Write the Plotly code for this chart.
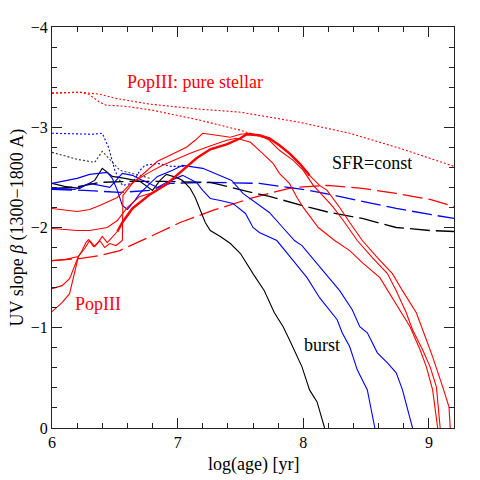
"""UV slope beta vs log(age) for burst and constant-SFR models."""

import plotly.graph_objects as go

# ---- data (log age [yr], beta) ----
red_dot_upper_x = [6.0, 6.22, 6.38, 6.5, 6.78, 7.18, 7.5, 7.97, 8.37, 8.77, 9.2]
red_dot_upper_y = [-3.34, -3.35, -3.33, -3.29, -3.23, -3.18, -3.15, -3.05, -2.94, -2.79, -2.61]

red_dot_lower_x = [6.0, 6.22, 6.29, 6.38, 6.43, 6.58, 6.8, 7.18, 7.5, 7.75]
red_dot_lower_y = [-3.34, -3.35, -3.33, -3.25, -3.22, -3.21, -3.17, -3.07, -2.97, -2.87]

blue_dot_x = [6.0, 6.32, 6.40, 6.45, 6.50, 6.56, 6.64, 6.70, 6.74, 6.84, 6.95, 7.06]
blue_dot_y = [-2.94, -2.93, -2.94, -2.80, -2.57, -2.42, -2.44, -2.57, -2.62, -2.64, -2.61, -2.61]

black_dot_x = [6.0, 6.20, 6.34, 6.40, 6.46, 6.54, 6.70, 6.78]
black_dot_y = [-2.75, -2.68, -2.65, -2.76, -2.68, -2.57, -2.52, -2.49]

black_burst_x = [6.0, 6.10, 6.22, 6.34, 6.40, 6.48, 6.58, 6.70, 6.80, 6.86, 6.91, 6.99,
                 7.04, 7.10, 7.14, 7.18, 7.22, 7.26, 7.34, 7.42, 7.50, 7.60, 7.69, 7.77,
                 7.84, 7.89, 7.95, 7.99, 8.05, 8.11, 8.17]
black_burst_y = [-2.44, -2.41, -2.39, -2.47, -2.59, -2.51, -2.49, -2.46, -2.37, -2.47, -2.53, -2.50,
                 -2.47, -2.39, -2.30, -2.17, -2.05, -1.97, -1.91, -1.84, -1.74, -1.54, -1.37, -1.15,
                 -1.01, -0.88, -0.71, -0.61, -0.38, -0.26, 0.0]

black_const_x = [6.0, 6.18, 6.38, 6.62, 6.88, 7.26, 7.52, 7.73, 8.05, 8.21, 8.47, 8.74, 9.01, 9.2]
black_const_y = [-2.39, -2.40, -2.45, -2.46, -2.46, -2.45, -2.37, -2.31, -2.20, -2.15, -2.09, -2.00, -1.97, -1.96]

blue_const_x = [6.0, 6.26, 6.54, 6.78, 6.94, 7.26, 7.65, 8.05, 8.21, 8.47, 8.74, 9.01, 9.2]
blue_const_y = [-2.38, -2.37, -2.35, -2.37, -2.44, -2.45, -2.44, -2.37, -2.33, -2.26, -2.19, -2.13, -2.09]

red_const_x = [6.0, 6.22, 6.38, 6.54, 6.80, 7.02, 7.28, 7.58, 7.73, 7.92, 8.19, 8.47, 8.74, 9.01, 9.2]
red_const_y = [-1.67, -1.69, -1.72, -1.77, -1.92, -2.05, -2.17, -2.29, -2.34, -2.40, -2.42, -2.39, -2.34, -2.28, -2.21]

blue_burst1_x = [6.0, 6.18, 6.30, 6.46, 6.56, 6.64, 6.72, 6.76, 6.84, 6.91, 7.04, 7.15, 7.20,
                 7.26, 7.34, 7.44, 7.54, 7.60, 7.65, 7.79, 7.92, 8.03, 8.13, 8.21, 8.27, 8.31,
                 8.37, 8.43, 8.51, 8.57]
blue_burst1_y = [-2.39, -2.38, -2.44, -2.40, -2.54, -2.52, -2.47, -2.45, -2.40, -2.45, -2.52, -2.45, -2.37,
                 -2.29, -2.27, -2.24, -2.14, -2.00, -1.95, -1.87, -1.67, -1.50, -1.30, -1.18, -1.08, -0.95,
                 -0.81, -0.58, -0.38, 0.0]

blue_burst2_x = [6.0, 6.20, 6.30, 6.44, 6.48, 6.52, 6.56, 6.60, 6.66, 6.70, 6.78, 6.84, 6.96,
                 7.04, 7.20, 7.39, 7.43, 7.52, 7.63, 7.73, 7.83, 7.93, 7.99, 8.11, 8.21, 8.29,
                 8.39, 8.45, 8.51, 8.59, 8.67, 8.74, 8.79, 8.87]
blue_burst2_y = [-2.44, -2.49, -2.53, -2.55, -2.49, -2.37, -2.22, -2.18, -2.27, -2.34, -2.44, -2.51, -2.57,
                 -2.62, -2.59, -2.49, -2.47, -2.34, -2.24, -2.15, -2.01, -1.87, -1.82, -1.64, -1.50, -1.37,
                 -1.18, -1.01, -0.95, -0.75, -0.65, -0.55, -0.38, 0.0]

# PopIII bursts (red solid)
red_a_x = [6.0, 6.20, 6.30, 6.38, 6.52, 6.62, 6.76, 6.88, 6.99, 7.10, 7.23, 7.39, 7.47, 7.58,
           7.65, 7.76, 7.81, 7.89, 7.95, 8.00, 8.12, 8.25, 8.37, 8.47, 8.61, 8.71, 8.78, 8.85,
           8.93, 8.98, 9.03, 9.07]
red_a_y = [-2.19, -2.16, -2.18, -2.22, -2.30, -2.43, -2.54, -2.62, -2.68, -2.74, -2.80, -2.87, -2.89, -2.85,
           -2.77, -2.64, -2.54, -2.44, -2.30, -2.20, -2.00, -1.87, -1.77, -1.65, -1.50, -1.30, -1.16, -1.01,
           -0.78, -0.61, -0.38, 0.0]

red_b_x = [6.0, 6.10, 6.21, 6.26, 6.30, 6.34, 6.38, 6.42, 6.46, 6.51, 6.56, 6.565, 6.64, 6.76,
           6.84, 6.94, 7.07, 7.14, 7.20, 7.31, 7.42, 7.50, 7.58, 7.69, 7.73, 7.81, 7.92, 8.00,
           8.08, 8.19, 8.24, 8.33, 8.43, 8.55, 8.67, 8.74, 8.82, 8.87, 8.95, 9.01, 9.06, 9.09]
red_b_y = [-1.67, -1.68, -1.71, -1.79, -1.87, -1.81, -1.87, -1.80, -1.84, -1.82, -1.87, -2.32, -2.44, -2.57,
           -2.66, -2.72, -2.80, -2.87, -2.94, -2.92, -2.90, -2.93, -2.94, -2.90, -2.87, -2.77, -2.67, -2.57,
           -2.42, -2.27, -2.20, -2.05, -1.87, -1.70, -1.54, -1.37, -1.15, -0.98, -0.78, -0.61, -0.41, 0.0]

red_c_x = [6.0, 6.20, 6.30, 6.44, 6.52, 6.60, 6.70, 6.78]
red_c_y = [-1.99, -1.97, -1.97, -2.00, -2.07, -2.20, -2.31, -2.34]

red_d_x = [6.0, 6.08, 6.14, 6.18, 6.21]
red_d_y = [-1.39, -1.42, -1.49, -1.62, -1.71]

red_thick_x = [6.0, 6.08, 6.14, 6.18, 6.21, 6.24, 6.27, 6.29, 6.33, 6.36, 6.40, 6.44, 6.48, 6.52,
               6.56, 6.64, 6.78, 6.91, 6.99, 7.07, 7.15, 7.26, 7.39, 7.50, 7.55, 7.65, 7.73, 7.81,
               7.89, 7.97, 8.05, 8.13, 8.19, 8.29, 8.37, 8.47, 8.59, 8.71, 8.79, 8.90, 8.98, 9.03,
               9.11, 9.16, 9.17]
red_thick_y = [-1.16, -1.25, -1.34, -1.54, -1.71, -1.77, -1.85, -1.88, -1.81, -1.84, -1.91, -1.85, -1.91, -1.96,
               -2.05, -2.19, -2.33, -2.43, -2.52, -2.60, -2.69, -2.78, -2.83, -2.89, -2.93, -2.92, -2.89, -2.82,
               -2.74, -2.64, -2.52, -2.42, -2.37, -2.20, -2.05, -1.87, -1.70, -1.54, -1.37, -1.15, -0.88, -0.71,
               -0.41, -0.21, 0.0]

x_ticks = [6, 7, 8, 9]
y_ticks = [0, -1, -2, -3, -4]

RED = "#ff0000"
BLUE = "#0000ff"
BLACK = "#000000"
AXIS = "#222222"
SERIF = "Liberation Serif"

fig = go.Figure()


def add_line(x, y, color, dash="solid", width=1.1):
    fig.add_trace(go.Scatter(
        x=x, y=y, mode="lines",
        line=dict(color=color, width=width, dash=dash),
        showlegend=False, hoverinfo="skip",
    ))


# pure stellar (dotted)
add_line(red_dot_upper_x, red_dot_upper_y, RED, "2px,2px")
add_line(red_dot_lower_x, red_dot_lower_y, RED, "2px,2px")
add_line(blue_dot_x, blue_dot_y, BLUE, "2px,2px")
add_line(black_dot_x, black_dot_y, "#333333", "2px,2px")

# constant SFR (long dashes)
add_line(red_const_x, red_const_y, RED, "20px,6px", 1.3)
add_line(blue_const_x, blue_const_y, BLUE, "20px,6px", 1.3)
add_line(black_const_x, black_const_y, BLACK, "20px,6px", 1.3)

# bursts (solid)
add_line(black_burst_x, black_burst_y, BLACK)
add_line(blue_burst1_x, blue_burst1_y, BLUE)
add_line(blue_burst2_x, blue_burst2_y, BLUE)
add_line(red_a_x, red_a_y, RED)
add_line(red_b_x, red_b_y, RED)
add_line(red_c_x, red_c_y, RED)
add_line(red_d_x, red_d_y, RED)
add_line(red_thick_x, red_thick_y, RED)

# thicker middle stretch of the overlapping PopIII curves
mid = [(x, y) for x, y in zip(red_thick_x, red_thick_y) if 6.5 <= x <= 8.05]
add_line([p[0] for p in mid], [p[1] for p in mid], RED, "solid", 2.4)

# labels inside the plot
labels = [
    ("PopIII: pure stellar", 7.14, -3.45, RED),
    ("SFR=const", 8.55, -2.64, BLACK),
    ("burst", 8.15, -0.83, BLACK),
    ("PopIII", 6.37, -1.24, RED),
]
for text, lx, ly, col in labels:
    fig.add_annotation(x=lx, y=ly, text=text, showarrow=False,
                       font=dict(family=SERIF, size=18, color=col))

# axis titles placed by hand so the plot box stays fixed
fig.add_annotation(xref="paper", yref="paper", x=0.5, y=-0.092, text="log(age) [yr]",
                   xanchor="center", yanchor="middle",
                   showarrow=False, font=dict(family=SERIF, size=18, color=BLACK))
fig.add_annotation(xref="paper", yref="paper", x=-0.087, y=0.5, textangle=-90,
                   text="UV slope <i>β</i> (1300−1800 A)",
                   xanchor="center", yanchor="middle",
                   showarrow=False, font=dict(family=SERIF, size=18, color=BLACK))

axis_common = dict(
    showline=True, linecolor=AXIS, linewidth=1, mirror="ticks",
    ticks="inside", ticklen=10, tickcolor=AXIS, tickwidth=1,
    showgrid=False, zeroline=False, automargin=False,
    tickfont=dict(family=SERIF, size=16, color=BLACK),
    minor=dict(ticks="inside", dtick=0.2, ticklen=5, tickcolor=AXIS),
)

# page body adds an 8px offset, so margins are shifted to keep the box at 52..454 / 27..428
fig.update_layout(
    width=480, height=480,
    margin=dict(l=44, r=34, t=19, b=60),
    paper_bgcolor="white", plot_bgcolor="white",
    showlegend=False,
    xaxis=dict(range=[6, 9.2], tickvals=x_ticks, **axis_common),
    yaxis=dict(range=[0, -4], tickvals=y_ticks, **axis_common),
)

fig.write_html("out.html")
